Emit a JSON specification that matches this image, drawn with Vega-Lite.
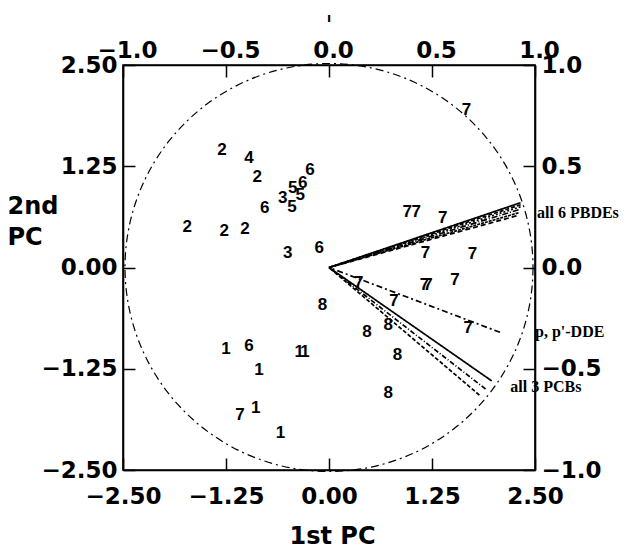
{
  "$schema": "https://vega.github.io/schema/vega-lite/v6.json",
  "width": 412,
  "height": 405,
  "autosize": {"type": "none"},
  "padding": {"left": 123, "top": 65, "right": 102, "bottom": 78},
  "background": "white",
  "title": {"text": "ı", "fontSize": 12, "font": "DejaVu Sans", "fontWeight": "bold", "color": "black", "anchor": "middle", "offset": 14},
  "config": {
    "view": {"stroke": "black", "strokeWidth": 1.6},
    "axis": {
      "domainColor": "black",
      "domainWidth": 1.6,
      "tickColor": "black",
      "tickWidth": 1.5,
      "tickSize": -12,
      "grid": false,
      "labelFont": "DejaVu Sans",
      "labelFontWeight": "bold",
      "labelFontSize": 23,
      "labelColor": "black",
      "labelFlush": false,
      "labelOverlap": false,
      "titleFont": "DejaVu Sans",
      "titleFontWeight": "bold",
      "titleFontSize": 24,
      "titleColor": "black"
    }
  },
  "resolve": {"scale": {"x": "independent", "y": "independent"}, "axis": {"x": "independent", "y": "independent"}},
  "layer": [
    {
      "data": {"values": [
        {"pc1": -1.30, "pc2": 1.45, "group": "2"},
        {"pc1": -0.97, "pc2": 1.35, "group": "4"},
        {"pc1": -0.87, "pc2": 1.12, "group": "2"},
        {"pc1": -0.23, "pc2": 1.20, "group": "6"},
        {"pc1": -0.32, "pc2": 1.04, "group": "6"},
        {"pc1": -0.44, "pc2": 0.98, "group": "5"},
        {"pc1": -0.35, "pc2": 0.89, "group": "5"},
        {"pc1": -0.56, "pc2": 0.86, "group": "3"},
        {"pc1": -0.45, "pc2": 0.75, "group": "5"},
        {"pc1": -0.78, "pc2": 0.73, "group": "6"},
        {"pc1": -1.72, "pc2": 0.50, "group": "2"},
        {"pc1": -1.27, "pc2": 0.45, "group": "2"},
        {"pc1": -1.02, "pc2": 0.48, "group": "2"},
        {"pc1": -0.50, "pc2": 0.18, "group": "3"},
        {"pc1": -0.12, "pc2": 0.24, "group": "6"},
        {"pc1": 1.67, "pc2": 1.94, "group": "7"},
        {"pc1": 0.95, "pc2": 0.68, "group": "7"},
        {"pc1": 1.06, "pc2": 0.68, "group": "7"},
        {"pc1": 1.38, "pc2": 0.61, "group": "7"},
        {"pc1": 1.17, "pc2": 0.18, "group": "7"},
        {"pc1": 1.74, "pc2": 0.17, "group": "7"},
        {"pc1": 0.36, "pc2": -0.19, "group": "7"},
        {"pc1": 1.16, "pc2": -0.22, "group": "7"},
        {"pc1": 1.20, "pc2": -0.22, "group": "7"},
        {"pc1": 1.53, "pc2": -0.15, "group": "7"},
        {"pc1": -0.08, "pc2": -0.46, "group": "8"},
        {"pc1": 0.79, "pc2": -0.41, "group": "7"},
        {"pc1": 0.46, "pc2": -0.80, "group": "8"},
        {"pc1": 0.72, "pc2": -0.71, "group": "8"},
        {"pc1": 1.69, "pc2": -0.75, "group": "7"},
        {"pc1": 0.83, "pc2": -1.08, "group": "8"},
        {"pc1": 0.72, "pc2": -1.55, "group": "8"},
        {"pc1": -0.36, "pc2": -1.04, "group": "1"},
        {"pc1": -0.29, "pc2": -1.04, "group": "1"},
        {"pc1": -1.25, "pc2": -1.01, "group": "1"},
        {"pc1": -0.97, "pc2": -0.97, "group": "6"},
        {"pc1": -0.85, "pc2": -1.27, "group": "1"},
        {"pc1": -1.08, "pc2": -1.82, "group": "7"},
        {"pc1": -0.89, "pc2": -1.73, "group": "1"},
        {"pc1": -0.59, "pc2": -2.04, "group": "1"}
      ]},
      "mark": {"type": "text", "font": "Liberation Sans", "fontWeight": "bold", "fontSize": 17, "color": "black", "align": "center", "baseline": "middle"},
      "encoding": {
        "x": {
          "field": "pc1", "type": "quantitative",
          "scale": {"domain": [-2.5, 2.5], "nice": false, "zero": false},
          "axis": {"orient": "bottom", "values": [-2.5, -1.25, 0, 1.25, 2.5], "format": ".2f", "labelPadding": 27,
                   "title": "1st PC", "titleX": 209, "titleY": 73, "titleBaseline": "alphabetic", "titleAlign": "center"}
        },
        "y": {
          "field": "pc2", "type": "quantitative",
          "scale": {"domain": [-2.5, 2.5], "nice": false, "zero": false},
          "axis": {"orient": "left", "values": [-2.5, -1.25, 0, 1.25, 2.5], "format": ".2f", "labelPadding": 18,
                   "title": ["2nd", "PC"], "titleAngle": 0, "titleAlign": "left", "titleBaseline": "alphabetic",
                   "titleX": -116, "titleY": 148, "titleLineHeight": 31}
        },
        "text": {"field": "group"}
      }
    },
    {
      "encoding": {
        "x": {
          "field": "x", "type": "quantitative",
          "scale": {"domain": [-1, 1], "nice": false, "zero": false},
          "axis": {"orient": "top", "values": [-1, -0.5, 0, 0.5, 1], "format": ".1f", "labelPadding": 15, "labelOffset": 4, "title": null}
        },
        "y": {
          "field": "y", "type": "quantitative",
          "scale": {"domain": [-1, 1], "nice": false, "zero": false},
          "axis": {"orient": "right", "values": [-1, -0.5, 0, 0.5, 1], "format": ".1f", "labelPadding": 18, "title": null}
        }
      },
      "layer": [
        {
          "data": {"values": [{"x": 0, "y": 0}]},
          "mark": {"type": "point", "shape": "circle", "size": 166464, "filled": false, "stroke": "black", "strokeWidth": 1.2, "strokeDash": [8, 4, 2, 4], "opacity": 1}
        },
        {
          "data": {"values": [
            {"variable": "PBDE a", "x": 0.93, "y": 0.32},
            {"variable": "PBDE b", "x": 0.93, "y": 0.31},
            {"variable": "PBDE c", "x": 0.93, "y": 0.30},
            {"variable": "PBDE d", "x": 0.92, "y": 0.285},
            {"variable": "PBDE e", "x": 0.92, "y": 0.27},
            {"variable": "PBDE f", "x": 0.91, "y": 0.255},
            {"variable": "p,p'-DDE", "x": 0.83, "y": -0.32},
            {"variable": "PCB a", "x": 0.79, "y": -0.56},
            {"variable": "PCB b", "x": 0.76, "y": -0.60},
            {"variable": "PCB c", "x": 0.73, "y": -0.63}
          ]},
          "mark": {"type": "rule", "color": "black", "strokeWidth": 1.7},
          "encoding": {
            "x2": {"datum": 0},
            "y2": {"datum": 0},
            "strokeDash": {
              "field": "variable", "type": "nominal", "legend": null,
              "scale": {
                "domain": ["PBDE a", "PBDE b", "PBDE c", "PBDE d", "PBDE e", "PBDE f", "p,p'-DDE", "PCB a", "PCB b", "PCB c"],
                "range": [[1, 0], [4, 2], [2, 2], [6, 2, 1, 2], [3, 1], [5, 3], [6, 3, 2, 3], [1, 0], [5, 2, 1, 2], [4, 2]]
              }
            }
          }
        },
        {
          "data": {"values": [
            {"x": 1.01, "y": 0.27, "label": "all 6 PBDEs"},
            {"x": 1.0, "y": -0.32, "label": "p, p'-DDE"},
            {"x": 0.88, "y": -0.59, "label": "all  3 PCBs"}
          ]},
          "mark": {"type": "text", "font": "Liberation Serif", "fontWeight": "bold", "fontSize": 16, "color": "black", "align": "left", "baseline": "middle"},
          "encoding": {"text": {"field": "label"}}
        }
      ]
    }
  ]
}
